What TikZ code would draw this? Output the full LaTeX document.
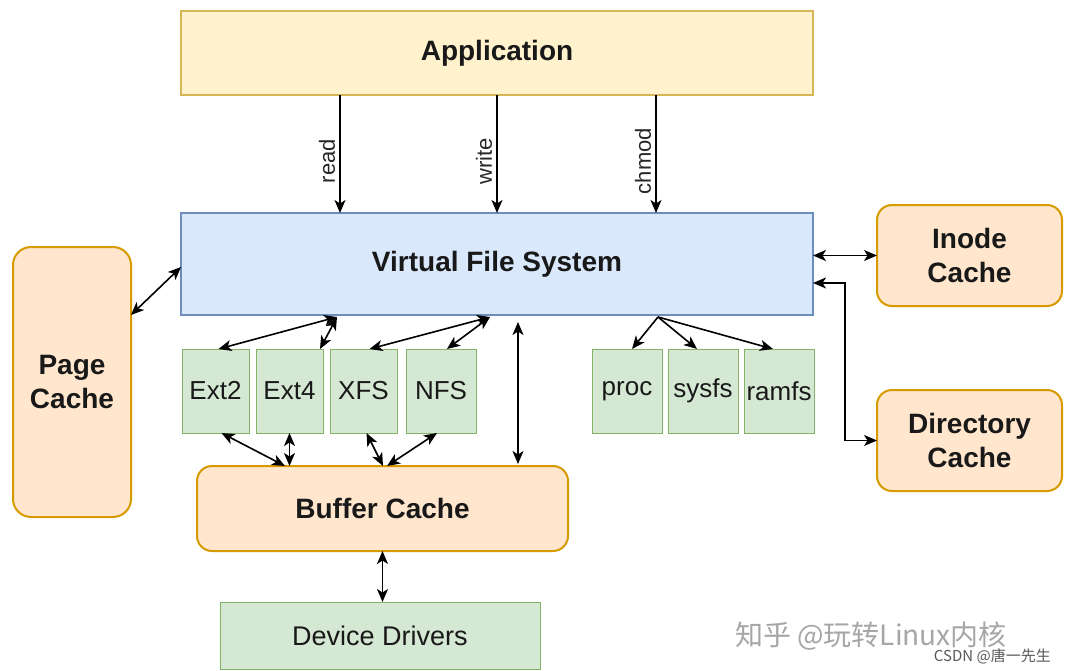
\documentclass[tikz,border=0pt]{standalone}
\usepackage{fontspec}
\setmainfont{Liberation Sans}
\newfontfamily\cjkfont{Noto Sans CJK SC}
\usetikzlibrary{arrows.meta,positioning}
\definecolor{appF}{HTML}{FFF2CC}
\definecolor{appD}{HTML}{D6B656}
\definecolor{vfsF}{HTML}{DAE8FC}
\definecolor{vfsD}{HTML}{6C8EBF}
\definecolor{orF}{HTML}{FFE6CC}
\definecolor{orD}{HTML}{D79B00}
\definecolor{grF}{HTML}{D5E8D4}
\definecolor{grD}{HTML}{82B366}
\tikzset{
  box/.style={anchor=north west, inner sep=0pt, outer sep=0pt, align=center, text=black!90},
  appbox/.style={box, draw=appD, fill=appF, line width=2pt, font=\fontsize{28}{34}\selectfont\bfseries},
  vfsbox/.style={box, draw=vfsD, fill=vfsF, line width=2pt, font=\fontsize{28}{34}\selectfont\bfseries},
  cachebox/.style={box, draw=orD, fill=orF, line width=2pt, rounded corners=15pt, font=\fontsize{28}{34}\selectfont\bfseries},
  fsbox/.style={box, draw=grD, fill=grF, line width=1pt, font=\fontsize{26}{30}\selectfont},
  tip/.tip={Stealth[length=13pt,width=11pt,inset=3.5pt]},
  conn/.style={line width=1.6pt, draw=black, tip-tip},
  oneway/.style={line width=1.6pt, draw=black, -tip},
  lbl/.style={rotate=90, anchor=south, inner sep=4pt, font=\fontsize{22}{26}\selectfont, text=black!85},
}
\begin{document}
\begin{tikzpicture}[x=1pt,y=-1pt]
\fill[white] (0,0) rectangle (1067,671);
\useasboundingbox (0,0) rectangle (1067,671);

\node[appbox, minimum width=632pt, minimum height=84pt] (app) at (181,11) {Application};
\node[vfsbox, minimum width=632pt, minimum height=102pt] (vfs) at (181,213) {Virtual File System};

\node[cachebox, minimum width=185pt, minimum height=101pt] (inode) at (877,205) {Inode\\Cache};
\node[cachebox, minimum width=185pt, minimum height=101pt] (dir) at (877,390) {Directory\\Cache};
\node[cachebox, rounded corners=18pt, minimum width=118pt, minimum height=270pt] (page) at (13,247) {Page\\Cache};

\node[fsbox, minimum width=67pt, minimum height=84pt] (ext2) at (182,349) {Ext2};
\node[fsbox, minimum width=67pt, minimum height=84pt] (ext4) at (256,349) {Ext4};
\node[fsbox, minimum width=67pt, minimum height=84pt] (xfs) at (330,349) {XFS};
\node[fsbox, minimum width=70pt, minimum height=84pt] (nfs) at (406,349) {NFS};
\node[fsbox, minimum width=70pt, minimum height=84pt] (proc) at (592,349) {proc};
\node[fsbox, minimum width=70pt, minimum height=84pt] (sysfs) at (668,349) {sysfs};
\node[fsbox, minimum width=70pt, minimum height=84pt] (ramfs) at (744,349) {ramfs};

\node[cachebox, minimum width=371pt, minimum height=85pt] (buf) at (197,466) {Buffer Cache};
\node[fsbox, minimum width=320pt, minimum height=67pt, font=\fontsize{27}{30}\selectfont] (dev) at (220,602) {Device Drivers};

% Application -> VFS
\draw[oneway] ([xshift=159pt]app.south west) -- ([xshift=159pt]vfs.north west) node[lbl, pos=0.56] {read};
\draw[oneway] ([xshift=316pt]app.south west) -- ([xshift=316pt]vfs.north west) node[lbl, pos=0.56] {write};
\draw[oneway] ([xshift=475pt]app.south west) -- ([xshift=475pt]vfs.north west) node[lbl, pos=0.56] {chmod};

% VFS <-> caches
\draw[conn] (inode.west -| vfs.east) -- (inode.west);
\draw[conn] ([yshift=-19pt]vfs.east) -- ++(32,0) |- (dir.west);
\draw[conn] ([yshift=-68pt]page.north east) -- ([yshift=-3pt]vfs.west);

% VFS <-> filesystems
\coordinate (va) at ([xshift=156pt,yshift=-2pt]vfs.south west);
\coordinate (vb) at ([xshift=309pt,yshift=-2pt]vfs.south west);
\coordinate (vc) at ([xshift=477pt,yshift=-2pt]vfs.south west);
\draw[conn] (va) -- ([xshift=3pt]ext2.north);
\draw[conn] (va) -- ([xshift=-3pt]ext4.north east);
\draw[conn] (vb) -- ([xshift=6pt]xfs.north);
\draw[conn] (vb) -- ([xshift=6pt]nfs.north);
\draw[oneway] (vc) -- ([xshift=5pt]proc.north);
\draw[oneway] (vc) -- ([xshift=-6pt]sysfs.north);
\draw[oneway] (vc) -- ([xshift=-6pt]ramfs.north);

% filesystems <-> buffer cache
\draw[conn] ([xshift=6pt]ext2.south) -- ([xshift=88pt]buf.north west);
\draw[conn] (ext4.south) -- (ext4.south |- buf.north);
\draw[conn] ([xshift=3pt]xfs.south) -- ([xshift=186pt]buf.north west);
\draw[conn] ([xshift=-4pt]nfs.south) -- ([xshift=190pt]buf.north west);
\draw[conn] ([xshift=337pt,yshift=-7pt]vfs.south west) -- ([xshift=321pt,yshift=2pt]buf.north west);

% buffer <-> device drivers
\draw[conn] (buf.south) -- (buf.south |- dev.north);

% watermark
\node[anchor=west, inner sep=0pt, text=black!35, font=\cjkfont\fontsize{28}{30}\selectfont] (wm1) at (735,636) {知乎 @玩转Linux内核};
\node[anchor=east, inner sep=0pt, text=black!65, font=\cjkfont\fontsize{15}{17}\selectfont] (wm2) at (1051,656) {CSDN @唐一先生};
\end{tikzpicture}
\end{document}
